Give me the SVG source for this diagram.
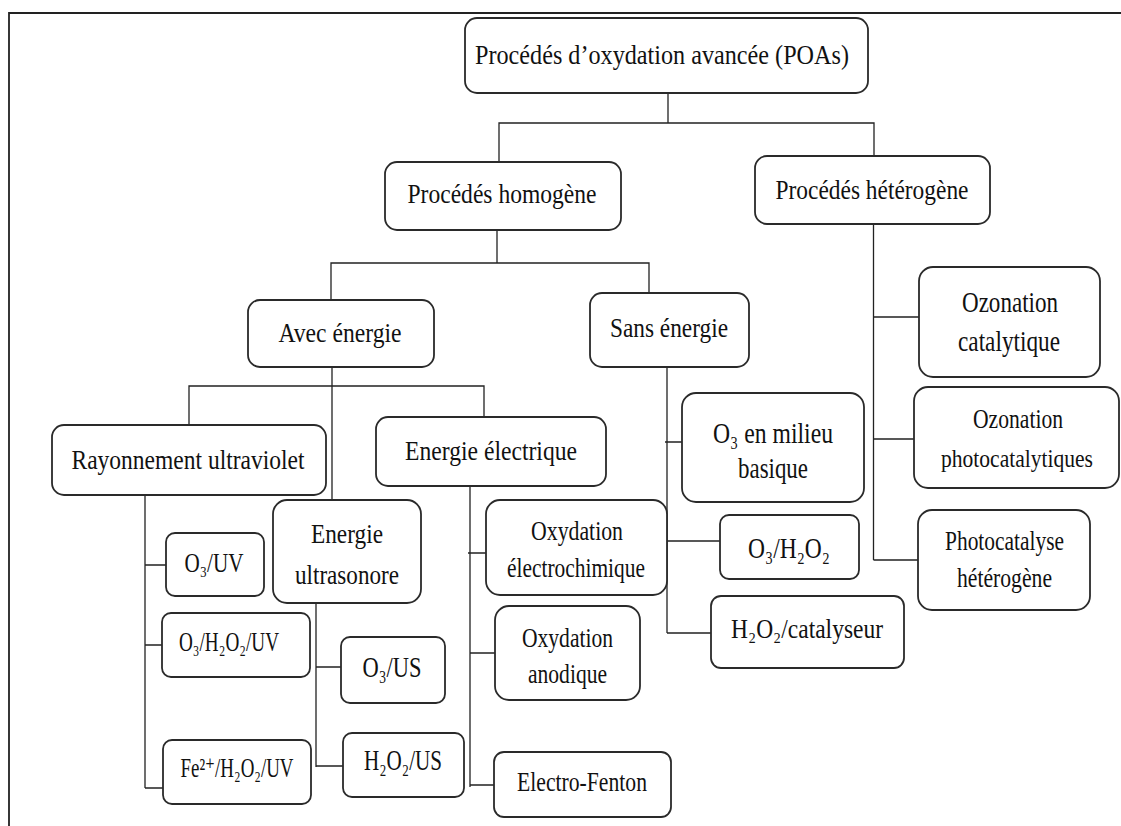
<svg xmlns="http://www.w3.org/2000/svg" width="1121" height="826" viewBox="0 0 1121 826">
<style>
.box{fill:#fff;stroke:#2a2a2a;stroke-width:1.8}
.ln{fill:none;stroke:#222;stroke-width:1.3}
.frame{fill:none;stroke:#222;stroke-width:1.8}
text{font-family:"Liberation Serif","Times New Roman","DejaVu Serif",serif;fill:#111;text-anchor:middle}
.m{font-size:27.5px}
.s{font-size:26.5px}
.t{font-size:25px}
.l{font-size:28.5px}
</style>
<rect width="1121" height="826" fill="#fff"/>
<path class="frame" d="M9,826 V13 H1121"/>
<g id="connectors">
<path class="ln" d="M668,80 V123 M499,162 V123 H874 V156"/>
<path class="ln" d="M497,230 V263 M331,300 V263 H649 V293"/>
<path class="ln" d="M332,367 V500 M189,425 V386 H484 V417"/>
<path class="ln" d="M145,495 V788 M145,565 H166 M145,645 H162 M145,788 H163"/>
<path class="ln" d="M316,603 V767 M316,667 H341 M316,766 H343"/>
<path class="ln" d="M470,486 V787 M468,553 H496 M470,653 H495 M470,785 H494"/>
<path class="ln" d="M667,358 V633 M665,442 H682 M667,541 H720 M667,633 H711"/>
<path class="ln" d="M873.5,224 V560 M873.5,317 H919 M873.5,439 H914 M873.5,560 H918"/>
</g>
<g id="n_poas"><rect class="box" x="465" y="18" width="403" height="75" rx="12"/><text class="m" x="662" y="64" textLength="374" lengthAdjust="spacingAndGlyphs">Procédés d’oxydation avancée (POAs)</text></g>
<g id="n_homogene"><rect class="box" x="385" y="162" width="236" height="68" rx="12"/><text class="m" x="502" y="203" textLength="189" lengthAdjust="spacingAndGlyphs">Procédés homogène</text></g>
<g id="n_heterogene"><rect class="box" x="755" y="156" width="235" height="68" rx="12"/><text class="m" x="872" y="199" textLength="193" lengthAdjust="spacingAndGlyphs">Procédés hétérogène</text></g>
<g id="n_avec"><rect class="box" x="248" y="300" width="186" height="67" rx="12"/><text class="m" x="340" y="342" textLength="123" lengthAdjust="spacingAndGlyphs">Avec énergie</text></g>
<g id="n_sans"><rect class="box" x="590" y="293" width="159" height="74" rx="12"/><text class="m" x="669" y="337" textLength="118" lengthAdjust="spacingAndGlyphs">Sans énergie</text></g>
<g id="n_uv"><rect class="box" x="52" y="425" width="274" height="70" rx="12"/><text class="m" x="188" y="469" textLength="233" lengthAdjust="spacingAndGlyphs">Rayonnement ultraviolet</text></g>
<g id="n_elec"><rect class="box" x="376" y="417" width="230" height="69" rx="12"/><text class="m" x="491" y="460" textLength="172" lengthAdjust="spacingAndGlyphs">Energie électrique</text></g>
<g id="n_ultra"><rect class="box" x="273" y="500" width="148" height="103" rx="14"/><text class="m" x="347" y="543" textLength="72" lengthAdjust="spacingAndGlyphs">Energie</text><text class="m" x="347" y="584" textLength="104" lengthAdjust="spacingAndGlyphs">ultrasonore</text></g>
<g id="n_o3uv"><rect class="box" x="166" y="533" width="98" height="63" rx="9"/><text class="m" x="214" y="572" textLength="59" lengthAdjust="spacingAndGlyphs">O₃/UV</text></g>
<g id="n_o3h2o2uv"><rect class="box" x="162" y="613" width="148" height="64" rx="9"/><text class="m" x="229" y="651" textLength="100" lengthAdjust="spacingAndGlyphs">O₃/H₂O₂/UV</text></g>
<g id="n_fe"><rect class="box" x="163" y="740" width="148" height="64" rx="9"/><text class="m" x="237" y="777" textLength="113" lengthAdjust="spacingAndGlyphs">Fe²⁺/H₂O₂/UV</text></g>
<g id="n_o3us"><rect class="box" x="341" y="637" width="104" height="66" rx="9"/><text class="l" x="392" y="677" textLength="59" lengthAdjust="spacingAndGlyphs">O₃/US</text></g>
<g id="n_h2o2us"><rect class="box" x="343" y="733" width="121" height="64" rx="9"/><text class="l" x="403" y="770" textLength="78" lengthAdjust="spacingAndGlyphs">H₂O₂/US</text></g>
<g id="n_electrochim"><rect class="box" x="486" y="500" width="181" height="95" rx="14"/><text class="s" x="577" y="540" textLength="92" lengthAdjust="spacingAndGlyphs">Oxydation</text><text class="s" x="576" y="577" textLength="138" lengthAdjust="spacingAndGlyphs">électrochimique</text></g>
<g id="n_anodique"><rect class="box" x="495" y="606" width="145" height="94" rx="14"/><text class="s" x="567.5" y="647" textLength="91" lengthAdjust="spacingAndGlyphs">Oxydation</text><text class="s" x="567.5" y="683" textLength="79" lengthAdjust="spacingAndGlyphs">anodique</text></g>
<g id="n_fenton"><rect class="box" x="494" y="752" width="177" height="65" rx="10"/><text class="s" x="582" y="791" textLength="130" lengthAdjust="spacingAndGlyphs">Electro-Fenton</text></g>
<g id="n_o3basique"><rect class="box" x="682" y="393" width="182" height="109" rx="14"/><text class="l" x="773" y="443" textLength="120" lengthAdjust="spacingAndGlyphs">O₃ en milieu</text><text class="l" x="773" y="478" textLength="70" lengthAdjust="spacingAndGlyphs">basique</text></g>
<g id="n_o3h2o2"><rect class="box" x="720" y="515" width="139" height="64" rx="9"/><text class="l" x="789" y="558" textLength="82" lengthAdjust="spacingAndGlyphs">O₃/H₂O₂</text></g>
<g id="n_h2o2cat"><rect class="box" x="711" y="596" width="193" height="72" rx="10"/><text class="m" x="807" y="638" textLength="152" lengthAdjust="spacingAndGlyphs">H₂O₂/catalyseur</text></g>
<g id="n_ozcat"><rect class="box" x="919" y="267" width="181" height="110" rx="14"/><text class="l" x="1010" y="312" textLength="96" lengthAdjust="spacingAndGlyphs">Ozonation</text><text class="l" x="1009" y="351" textLength="102" lengthAdjust="spacingAndGlyphs">catalytique</text></g>
<g id="n_ozphoto"><rect class="box" x="914" y="387" width="205" height="101" rx="14"/><text class="s" x="1018" y="428" textLength="90" lengthAdjust="spacingAndGlyphs">Ozonation</text><text class="t" x="1017" y="467" textLength="152" lengthAdjust="spacingAndGlyphs">photocatalytiques</text></g>
<g id="n_photocat"><rect class="box" x="918" y="510" width="172" height="100" rx="14"/><text class="s" x="1004.5" y="550" textLength="119" lengthAdjust="spacingAndGlyphs">Photocatalyse</text><text class="s" x="1004.5" y="587" textLength="95" lengthAdjust="spacingAndGlyphs">hétérogène</text></g>
</svg>
